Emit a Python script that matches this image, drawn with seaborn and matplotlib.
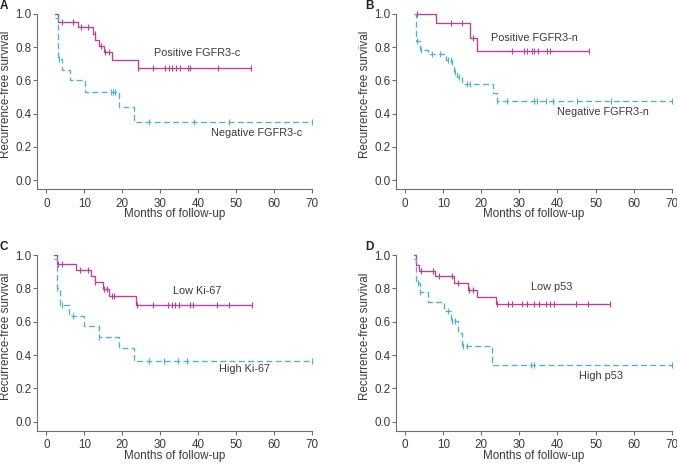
import numpy as np
import pandas as pd
import matplotlib
matplotlib.use("Agg")
import matplotlib.pyplot as plt
import seaborn as sns

# ---------------- data ----------------
x_ticks = [0, 10, 20, 30, 40, 50, 60, 70]
y_ticks = [0.0, 0.2, 0.4, 0.6, 0.8, 1.0]

# Panel A
A_pos_times = [2.4, 3.0, 8.3, 12.4, 12.9, 14.0, 15.1, 17.3, 24.1]
A_pos_surv = [1.0, 0.95, 0.92, 0.88, 0.845, 0.81, 0.77, 0.72, 0.675]
A_pos_cens = [4.0, 7.0, 9.1, 11.0, 12.7, 14.3, 15.5, 16.4, 24.3, 28.1, 31.2, 32.3,
              33.2, 34.1, 35.2, 37.4, 38.0, 45.2, 54.0]
A_pos_end = 54.0
A_neg_times = [2.4, 3.0, 4.1, 6.3, 10.1, 19.1, 23.0]
A_neg_surv = [0.975, 0.727, 0.66, 0.60, 0.53, 0.438, 0.35]
A_neg_cens = [3.2, 17.1, 17.6, 18.2, 27.0, 39.0, 48.1, 70.0]
A_neg_end = 70.0

# Panel B
B_pos_times = [2.6, 8.2, 17.1, 19.0]
B_pos_surv = [1.0, 0.944, 0.858, 0.777]
B_pos_cens = [3.1, 12.0, 15.0, 17.7, 28.0, 31.1, 32.1, 33.2, 33.9, 34.8, 37.2,
              38.1, 48.3]
B_pos_end = 48.3
B_neg_times = [2.2, 2.9, 3.9, 6.1, 10.7, 12.3, 12.9, 13.7, 15.0, 23.2, 24.1]
B_neg_surv = [1.0, 0.84, 0.783, 0.759, 0.723, 0.687, 0.652, 0.618, 0.576, 0.526, 0.476]
B_neg_cens = [3.1, 4.1, 7.0, 9.2, 11.2, 12.0, 13.2, 14.2, 16.2, 17.1, 24.2, 26.8,
              33.9, 34.7, 36.9, 38.9, 45.1, 54.0, 70.0]
B_neg_end = 70.0

# Panel C
C_pos_times = [1.9, 2.7, 7.8, 11.8, 12.7, 14.9, 16.6, 23.7]
C_pos_surv = [1.0, 0.946, 0.91, 0.876, 0.836, 0.796, 0.754, 0.70]
C_pos_cens = [3.0, 4.1, 8.8, 11.0, 12.9, 15.1, 16.0, 17.2, 17.8, 23.9, 28.0, 32.1,
              33.2, 34.0, 34.9, 38.0, 38.7, 45.0, 48.1, 54.3]
C_pos_end = 54.3
C_neg_times = [1.9, 2.7, 3.6, 5.9, 9.8, 13.8, 19.1, 23.0]
C_neg_surv = [0.974, 0.80, 0.70, 0.636, 0.576, 0.51, 0.44, 0.366]
C_neg_cens = [2.9, 4.0, 6.9, 13.9, 27.0, 31.0, 34.7, 37.1, 70.0]
C_neg_end = 70.0

# Panel D
D_pos_times = [2.2, 2.9, 3.7, 7.9, 12.9, 16.6, 19.0, 23.9]
D_pos_surv = [1.0, 0.94, 0.906, 0.872, 0.834, 0.79, 0.75, 0.704]
D_pos_cens = [4.1, 7.4, 9.0, 12.3, 14.0, 16.8, 17.8, 24.1, 26.9, 28.0, 30.8, 31.9,
              33.9, 35.2, 36.9, 38.1, 39.1, 44.8, 48.1, 53.8]
D_pos_end = 53.8
D_neg_times = [2.2, 2.9, 3.8, 6.1, 10.1, 12.0, 14.0, 14.9, 22.9]
D_neg_surv = [0.974, 0.834, 0.776, 0.72, 0.666, 0.606, 0.53, 0.454, 0.34]
D_neg_cens = [3.3, 3.9, 11.2, 12.3, 13.1, 15.1, 16.2, 33.1, 33.9, 70.0]
D_neg_end = 70.0

panel_letters = ["A", "B", "C", "D"]
pos_labels = ["Positive FGFR3-c", "Positive FGFR3-n", "Low Ki-67", "Low p53"]
neg_labels = ["Negative FGFR3-c", "Negative FGFR3-n", "High Ki-67", "High p53"]
pos_label_xy = [(39.8, 0.767), (33.9, 0.857), (39.8, 0.784), (38.5, 0.806)]
neg_label_xy = [(55.6, 0.281), (52.0, 0.411), (52.3, 0.314), (51.4, 0.274)]

x_label = "Months of follow-up"
y_label = "Recurrence-free survival"

# ---------------- styling ----------------
sns.set_theme(style="ticks")
plt.rcParams["font.family"] = ["Liberation Sans", "DejaVu Sans"]

MAGENTA = "#c83a98"
CYAN = "#45b4d8"
AXIS_C = "#6e6e6e"
TEXT_C = "#3a3a3a"
FS_AX = 8.4
FS_ANN = 7.8

W, H = 677, 465
fig = plt.figure(figsize=(W / 100, H / 100), dpi=100)

# axes boxes in pixels: left, right, top, bottom
boxes = [(37.3, 311.7, 14, 189.3), (396, 671.7, 14, 189.3),
         (37.3, 311.7, 255, 431), (396, 671.7, 255, 431)]
letter_pos = [(0, 0), (365, 0), (0, 241), (365, 241)]

curves = [
    ((A_pos_times, A_pos_surv, A_pos_cens, A_pos_end), (A_neg_times, A_neg_surv, A_neg_cens, A_neg_end)),
    ((B_pos_times, B_pos_surv, B_pos_cens, B_pos_end), (B_neg_times, B_neg_surv, B_neg_cens, B_neg_end)),
    ((C_pos_times, C_pos_surv, C_pos_cens, C_pos_end), (C_neg_times, C_neg_surv, C_neg_cens, C_neg_end)),
    ((D_pos_times, D_pos_surv, D_pos_cens, D_pos_end), (D_neg_times, D_neg_surv, D_neg_cens, D_neg_end)),
]


def level_at(times, surv, t):
    idx = np.searchsorted(np.asarray(times), t, side="right") - 1
    idx = max(idx, 0)
    return surv[idx]


def draw_curve(ax, times, surv, cens, end, color, ls):
    df = pd.DataFrame({"t": list(times) + [end], "s": list(surv) + [surv[-1]]})
    sns.lineplot(data=df, x="t", y="s", ax=ax, color=color, linewidth=0.95,
                 linestyle=ls, drawstyle="steps-post", estimator=None,
                 sort=False, clip_on=False)
    cdf = pd.DataFrame({"t": cens, "s": [level_at(times, surv, c) for c in cens]})
    sns.scatterplot(data=cdf, x="t", y="s", ax=ax, marker="|", s=16,
                    color=color, linewidth=0.8, clip_on=False, zorder=3)


for i, (box, (pos, neg)) in enumerate(zip(boxes, curves)):
    l, r, t, b = box
    ax = fig.add_axes([l / W, 1 - b / H, (r - l) / W, (b - t) / H])
    draw_curve(ax, *pos, MAGENTA, "-")
    draw_curve(ax, *neg, CYAN, (0, (4.5, 2.5)))

    ax.set_xlim(-2.4, 70)
    ax.set_ylim(-0.056, 1.0)
    ax.set_xticks(x_ticks)
    ax.set_yticks(y_ticks)
    ax.set_xticklabels([str(v) for v in x_ticks])
    ax.set_yticklabels([f"{v:.1f}" for v in y_ticks])
    sns.despine(ax=ax)
    for sp in ["left", "bottom"]:
        ax.spines[sp].set_color(AXIS_C)
        ax.spines[sp].set_linewidth(0.8)
    ax.tick_params(axis="x", length=3, width=0.8, color=AXIS_C, labelsize=FS_AX,
                   labelcolor=TEXT_C, pad=3)
    ax.tick_params(axis="y", length=3, width=0.8, color=AXIS_C, labelsize=FS_AX,
                   labelcolor=TEXT_C, pad=1.2)
    ax.set_xlabel(x_label, fontsize=FS_AX, color=TEXT_C)
    ax.set_ylabel(y_label, fontsize=FS_AX, color=TEXT_C)
    ax.xaxis.set_label_coords(0.5, -0.107)
    ax.xaxis.label.set_va("top")
    ax.yaxis.set_label_coords(-0.092, 0.54)

    px, py = pos_label_xy[i]
    ax.text(px, py, pos_labels[i], ha="center", va="center", fontsize=FS_ANN, color=TEXT_C)
    nx, ny = neg_label_xy[i]
    ax.text(nx, ny, neg_labels[i], ha="center", va="center", fontsize=FS_ANN, color=TEXT_C)

    lx, ly = letter_pos[i]
    fig.text(lx / W, 1 - ly / H, panel_letters[i], ha="left", va="top",
             fontsize=8.5, fontweight="bold", color="#222222")

fig.savefig("out.png", dpi=100)
